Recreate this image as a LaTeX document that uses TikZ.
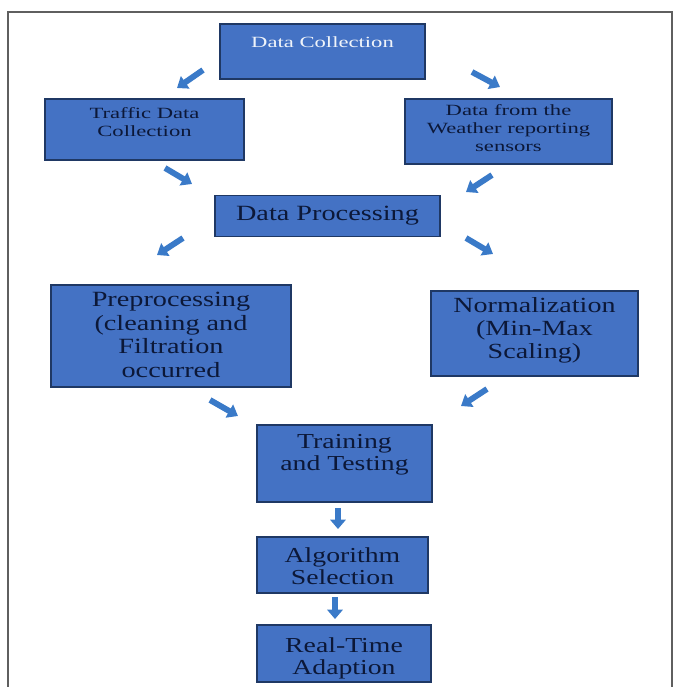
\documentclass[tikz,border=0pt]{standalone}
\usepackage{fontspec}
\setmainfont[FakeStretch=1.3]{Liberation Serif}
\newfontfamily\widefont[FakeStretch=1.45]{Liberation Serif}
\usetikzlibrary{arrows.meta}

\definecolor{boxfill}{RGB}{68,114,196}
\definecolor{boxline}{RGB}{31,56,100}
\definecolor{boxtext}{RGB}{12,24,56}
\definecolor{arrowblue}{RGB}{58,122,200}
\definecolor{framegray}{RGB}{95,95,95}

\tikzset{
	box/.style={draw=boxline, fill=boxfill, line width=0.8pt, inner sep=0pt},
	smalltxt/.style={anchor=north, align=center, inner sep=0pt, text=boxtext, font=\widefont\fontsize{11.7}{13.3}\selectfont},
	bigtxt/.style={anchor=north, align=center, inner sep=0pt, text=boxtext, font=\fontsize{16.2}{17.2}\selectfont},
	flow/.style={arrowblue, line width=4.4pt, -{Triangle[width=11pt,length=7.5pt]}},
	flowdown/.style={arrowblue, line width=5pt, -{Triangle[width=11.5pt,length=7pt]}},
}

\begin{document}
\begin{tikzpicture}[x=0.75pt,y=0.75pt,yscale=-1,xscale=1]
	\useasboundingbox (0,0) rectangle (676,687);
	\fill[white] (0,0) rectangle (676,687);

	%Frame
	\draw[framegray, line width=1.2pt] (8,687) -- (8,12) -- (672,12) -- (672,687);

	%Boxes
	\node[box, minimum width=205*0.75pt, minimum height=55*0.75pt] (dc) at (322.5,51.5) {};
	\node[box, minimum width=199*0.75pt, minimum height=61*0.75pt] (tdc) at (144.5,129.5) {};
	\node[box, minimum width=207*0.75pt, minimum height=65*0.75pt] (wrs) at (508.5,131.5) {};
	\node[box, minimum width=225*0.75pt, minimum height=41*0.75pt] (dp) at (327.5,216) {};
	\node[box, minimum width=240*0.75pt, minimum height=102*0.75pt] (pre) at (171,336) {};
	\node[box, minimum width=207*0.75pt, minimum height=85*0.75pt] (norm) at (534.5,333.5) {};
	\node[box, minimum width=175*0.75pt, minimum height=77*0.75pt] (tt) at (344.5,463.5) {};
	\node[box, minimum width=171*0.75pt, minimum height=56*0.75pt] (alg) at (342.5,565) {};
	\node[box, minimum width=174*0.75pt, minimum height=57*0.75pt] (rt) at (344,653.5) {};

	% Text Nodes
	\node[smalltxt, text=white!92!boxfill] (dctext) at (322.5,36) {Data Collection};
	\node[smalltxt] (tdctext) at (144.5,107.5) {Traffic Data\\Collection};
	\node[smalltxt] (wrstext) at (508.5,104.5) {Data from the\\Weather reporting\\sensors};
	\node[bigtxt, font=\fontsize{16.3}{15}\selectfont] (dptext) at (327.5,205.5) {Data Processing};
	\node[bigtxt, font=\fontsize{16.3}{17.6}\selectfont] (pretext) at (171,292) {Preprocessing\\(cleaning and\\Filtration\\occurred};
	\node[bigtxt] (normtext) at (534.5,297) {Normalization\\(Min-Max\\Scaling)};
	\node[bigtxt, font=\fontsize{16}{16.6}\selectfont] (tttext) at (344.5,434) {Training\\and Testing};
	\node[bigtxt, font=\fontsize{16}{16.6}\selectfont] (algtext) at (342.5,547) {Algorithm\\Selection};
	\node[bigtxt, font=\fontsize{16}{16.6}\selectfont] (rttext) at (344,637.5) {Real-Time\\Adaption};

	%Arrows
	\coordinate (a1s) at (203,70);  \coordinate (a1e) at (177,88);
	\coordinate (a2s) at (472,72);  \coordinate (a2e) at (500,87);
	\coordinate (a3s) at (165,168); \coordinate (a3e) at (192,184);
	\coordinate (a4s) at (492,175); \coordinate (a4e) at (466,192);
	\coordinate (a5s) at (183,238); \coordinate (a5e) at (157,255);
	\coordinate (a6s) at (466,238); \coordinate (a6e) at (493,254);
	\coordinate (a7s) at (210,400); \coordinate (a7e) at (238,416);
	\coordinate (a8s) at (487,389); \coordinate (a8e) at (461,406);
	\coordinate (a9s) at (338,508); \coordinate (a9e) at (338,529);
	\coordinate (a10s) at (335,597); \coordinate (a10e) at (335,619);
	\foreach \i in {1,...,8}
		\draw[flow] (a\i s) -- (a\i e);
	\draw[flowdown] (a9s) -- (a9e);
	\draw[flowdown] (a10s) -- (a10e);
\end{tikzpicture}
\end{document}
